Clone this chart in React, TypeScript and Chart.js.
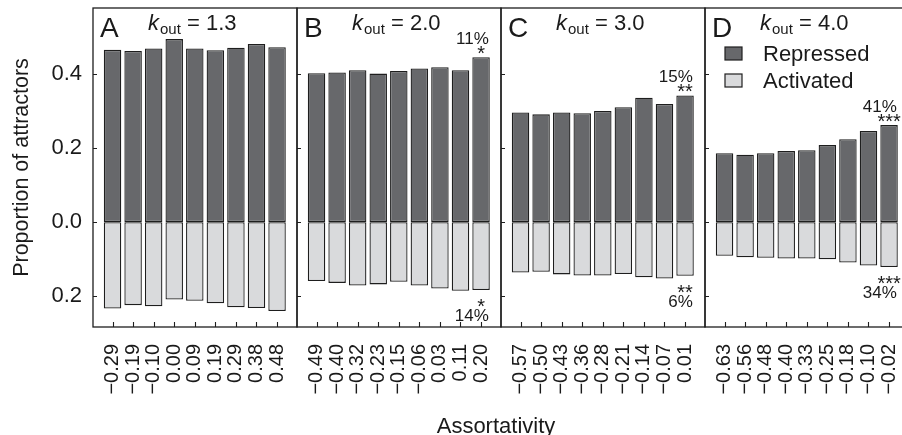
import React, { useEffect, useRef } from "react";
import { Chart, registerables } from "chart.js";

Chart.register(...registerables);

const FONT = '"Liberation Sans", Arial, Helvetica, sans-serif';

// ---------- data ----------
const panelLetters = ["A", "B", "C", "D"];
const kOutValues = ["1.3", "2.0", "3.0", "4.0"];

const assortativityA = ["−0.29", "−0.19", "−0.10", "0.00", "0.09", "0.19", "0.29", "0.38", "0.48"];
const assortativityB = ["−0.49", "−0.40", "−0.32", "−0.23", "−0.15", "−0.06", "0.03", "0.11", "0.20"];
const assortativityC = ["−0.57", "−0.50", "−0.43", "−0.36", "−0.28", "−0.21", "−0.14", "−0.07", "0.01"];
const assortativityD = ["−0.63", "−0.56", "−0.48", "−0.40", "−0.33", "−0.25", "−0.18", "−0.10", "−0.02"];

const repressedA = [0.465, 0.462, 0.469, 0.494, 0.469, 0.464, 0.471, 0.481, 0.472];
const activatedA = [0.233, 0.224, 0.227, 0.209, 0.212, 0.219, 0.23, 0.232, 0.24];
const repressedB = [0.402, 0.404, 0.41, 0.401, 0.408, 0.415, 0.418, 0.41, 0.445];
const activatedB = [0.159, 0.164, 0.171, 0.168, 0.161, 0.171, 0.179, 0.185, 0.183];
const repressedC = [0.296, 0.291, 0.296, 0.294, 0.3, 0.31, 0.336, 0.319, 0.342];
const activatedC = [0.136, 0.134, 0.141, 0.144, 0.144, 0.14, 0.149, 0.152, 0.145];
const repressedD = [0.186, 0.182, 0.186, 0.192, 0.194, 0.208, 0.224, 0.246, 0.262];
const activatedD = [0.091, 0.095, 0.096, 0.098, 0.098, 0.1, 0.109, 0.117, 0.121];

const changeRepressed = ["", "11%", "15%", "41%"];
const starsRepressed = ["", "*", "**", "***"];
const changeActivated = ["", "14%", "6%", "34%"];
const starsActivated = ["", "*", "**", "***"];

const yTickValues = [-0.2, 0, 0.2, 0.4];
const seriesNames = ["Repressed", "Activated"];
const yTitle = "Proportion of attractors";
const xTitle = "Assortativity";

const assortativity = [assortativityA, assortativityB, assortativityC, assortativityD];
const repressed = [repressedA, repressedB, repressedC, repressedD];
const activated = [activatedA, activatedB, activatedC, activatedD];

// ---------- layout / style ----------
const W = 902;
const H = 435;
const PANEL_LEFTS = [93, 297, 501, 705];
const PANEL_W = 204;
const TOP = 8;
const BOTTOM = 327;
const Y_MIN = -0.283;
const Y_MAX = 0.578;
const DARK = "#67686b";
const LIGHT = "#d9dadc";
const LINE = "#1e1e1e";
const TEXT = "#1a1a1a";

function zeroPad(s: any) {
  s.paddingLeft = 0;
  s.paddingRight = 0;
  s.paddingTop = 0;
  s.paddingBottom = 0;
}

function Panel({ index }: { index: number }) {
  const ref = useRef<HTMLCanvasElement>(null);
  const isFirst = index === 0;
  const panelLeft = PANEL_LEFTS[index];
  const marginL = isFirst ? panelLeft : 6;
  const marginR = isFirst ? 3 : 6;
  const canvasLeft = panelLeft - marginL;
  const canvasW = marginL + PANEL_W + marginR;

  useEffect(() => {
    const labels = assortativity[index];
    const rep = repressed[index];
    const act = activated[index];

    const deco = {
      id: "deco" + index,
      afterDraw(chart: any) {
        const { ctx, chartArea: ca, scales } = chart;
        const xs = scales.x;
        const ys = scales.y;
        ctx.save();
        ctx.strokeStyle = LINE;
        ctx.lineWidth = 1.3;
        ctx.strokeRect(ca.left, ca.top, ca.right - ca.left, ca.bottom - ca.top);
        ctx.lineWidth = 1.1;
        ctx.beginPath();
        yTickValues.forEach((v) => {
          const py = Math.round(ys.getPixelForValue(v)) + 0.5;
          ctx.moveTo(ca.left, py);
          ctx.lineTo(ca.left + 4, py);
        });
        labels.forEach((_: string, i: number) => {
          const px = Math.round(xs.getPixelForValue(i)) + 0.5;
          ctx.moveTo(px, ca.bottom);
          ctx.lineTo(px, ca.bottom - 5);
        });
        ctx.stroke();

        ctx.fillStyle = TEXT;
        ctx.textBaseline = "alphabetic";
        ctx.textAlign = "left";
        ctx.font = `28px ${FONT}`;
        ctx.fillText(panelLetters[index], ca.left + 7, 37);
        let x = ca.left + 55;
        ctx.font = `italic 22px ${FONT}`;
        ctx.fillText("k", x, 30);
        x += ctx.measureText("k").width + 1;
        ctx.font = `15px ${FONT}`;
        ctx.fillText("out", x, 34);
        x += ctx.measureText("out").width;
        ctx.font = `22px ${FONT}`;
        ctx.fillText(" = " + kOutValues[index], x, 30);

        if (changeRepressed[index]) {
          const topEl = chart.getDatasetMeta(0).data[labels.length - 1];
          const botEl = chart.getDatasetMeta(1).data[labels.length - 1];
          const right = topEl.x + topEl.width / 2 - 1;
          ctx.font = `17px ${FONT}`;
          ctx.textAlign = "right";
          ctx.fillText(changeRepressed[index], right, topEl.y - 13);
          ctx.fillText(changeActivated[index], right, botEl.y + 31);
          ctx.font = `20px ${FONT}`;
          ctx.textAlign = "center";
          ctx.fillText(starsRepressed[index], topEl.x, topEl.y + 2.5);
          ctx.fillText(starsActivated[index], botEl.x, botEl.y + 23);
        }

        if (index === 3) {
          chart.data.datasets.forEach((ds: any, k: number) => {
            const sy = 47 + k * 27;
            ctx.fillStyle = ds.backgroundColor;
            ctx.fillRect(ca.left + 20, sy, 17, 13);
            ctx.strokeStyle = LINE;
            ctx.lineWidth = 1.2;
            ctx.strokeRect(ca.left + 20, sy, 17, 13);
            ctx.fillStyle = TEXT;
            ctx.textAlign = "left";
            ctx.font = `22px ${FONT}`;
            ctx.fillText(ds.label, ca.left + 58, sy + 14);
          });
        }
        ctx.restore();
      },
    };

    const chart = new Chart(ref.current as HTMLCanvasElement, {
      type: "bar",
      data: {
        datasets: [
          {
            label: seriesNames[0],
            data: rep.map((v, i) => ({ x: i, y: v })),
            backgroundColor: DARK,
            borderColor: LINE,
            borderWidth: 1.3,
            borderSkipped: false,
            barPercentage: 0.85,
            categoryPercentage: 1,
          },
          {
            label: seriesNames[1],
            data: act.map((v, i) => ({ x: i, y: -v })),
            backgroundColor: LIGHT,
            borderColor: LINE,
            borderWidth: 1.3,
            borderSkipped: false,
            barPercentage: 0.85,
            categoryPercentage: 1,
          },
        ],
      },
      options: {
        animation: false,
        responsive: false,
        devicePixelRatio: 1,
        layout: { padding: { left: isFirst ? 0 : marginL, right: marginR, top: TOP, bottom: 0 } },
        plugins: { legend: { display: false }, tooltip: { enabled: false } },
        scales: {
          x: {
            type: "linear",
            stacked: true,
            min: -0.95,
            max: 8.97,
            offset: false,
            grid: { display: false, drawTicks: false },
            border: { display: false },
            afterBuildTicks: (s: any) => {
              s.ticks = labels.map((_: string, i: number) => ({ value: i }));
            },
            afterFit: (s: any) => {
              s.height = H - BOTTOM;
              zeroPad(s);
            },
            ticks: {
              autoSkip: false,
              minRotation: 90,
              maxRotation: 90,
              padding: 17,
              color: TEXT,
              font: { family: FONT, size: 20 },
              callback: (v: any) => labels[Math.round(Number(v))] ?? "",
            },
          },
          y: {
            display: isFirst,
            stacked: true,
            min: Y_MIN,
            max: Y_MAX,
            grid: { display: false, drawTicks: false },
            border: { display: false },
            afterBuildTicks: (s: any) => {
              s.ticks = yTickValues.map((v) => ({ value: v }));
            },
            afterFit: (s: any) => {
              s.width = isFirst ? panelLeft : 0;
              zeroPad(s);
            },
            ticks: {
              padding: 11,
              color: TEXT,
              font: { family: FONT, size: 22 },
              callback: (v: any) => Math.abs(Number(v)).toFixed(1),
            },
            title: {
              display: true,
              text: yTitle,
              color: TEXT,
              font: { family: FONT, size: 21.5 },
              padding: { top: 9, bottom: 0 },
            },
          },
        },
      },
      plugins: [deco],
    } as any);
    return () => chart.destroy();
  }, []);

  return (
    <canvas
      ref={ref}
      width={canvasW}
      height={H}
      style={{ position: "absolute", left: canvasLeft, top: 0, width: canvasW, height: H }}
    />
  );
}

export default function App() {
  return (
    <div
      style={{
        position: "fixed",
        left: 0,
        top: 0,
        width: W,
        height: H,
        overflow: "hidden",
        background: "#ffffff",
      }}
    >
      {[0, 1, 2, 3].map((i) => (
        <Panel key={i} index={i} />
      ))}
      <div
        style={{
          position: "absolute",
          left: 93,
          width: 806,
          top: 415,
          textAlign: "center",
          fontFamily: FONT,
          fontSize: 22,
          lineHeight: "22px",
          color: TEXT,
          whiteSpace: "nowrap",
        }}
      >
        {xTitle}
      </div>
    </div>
  );
}
